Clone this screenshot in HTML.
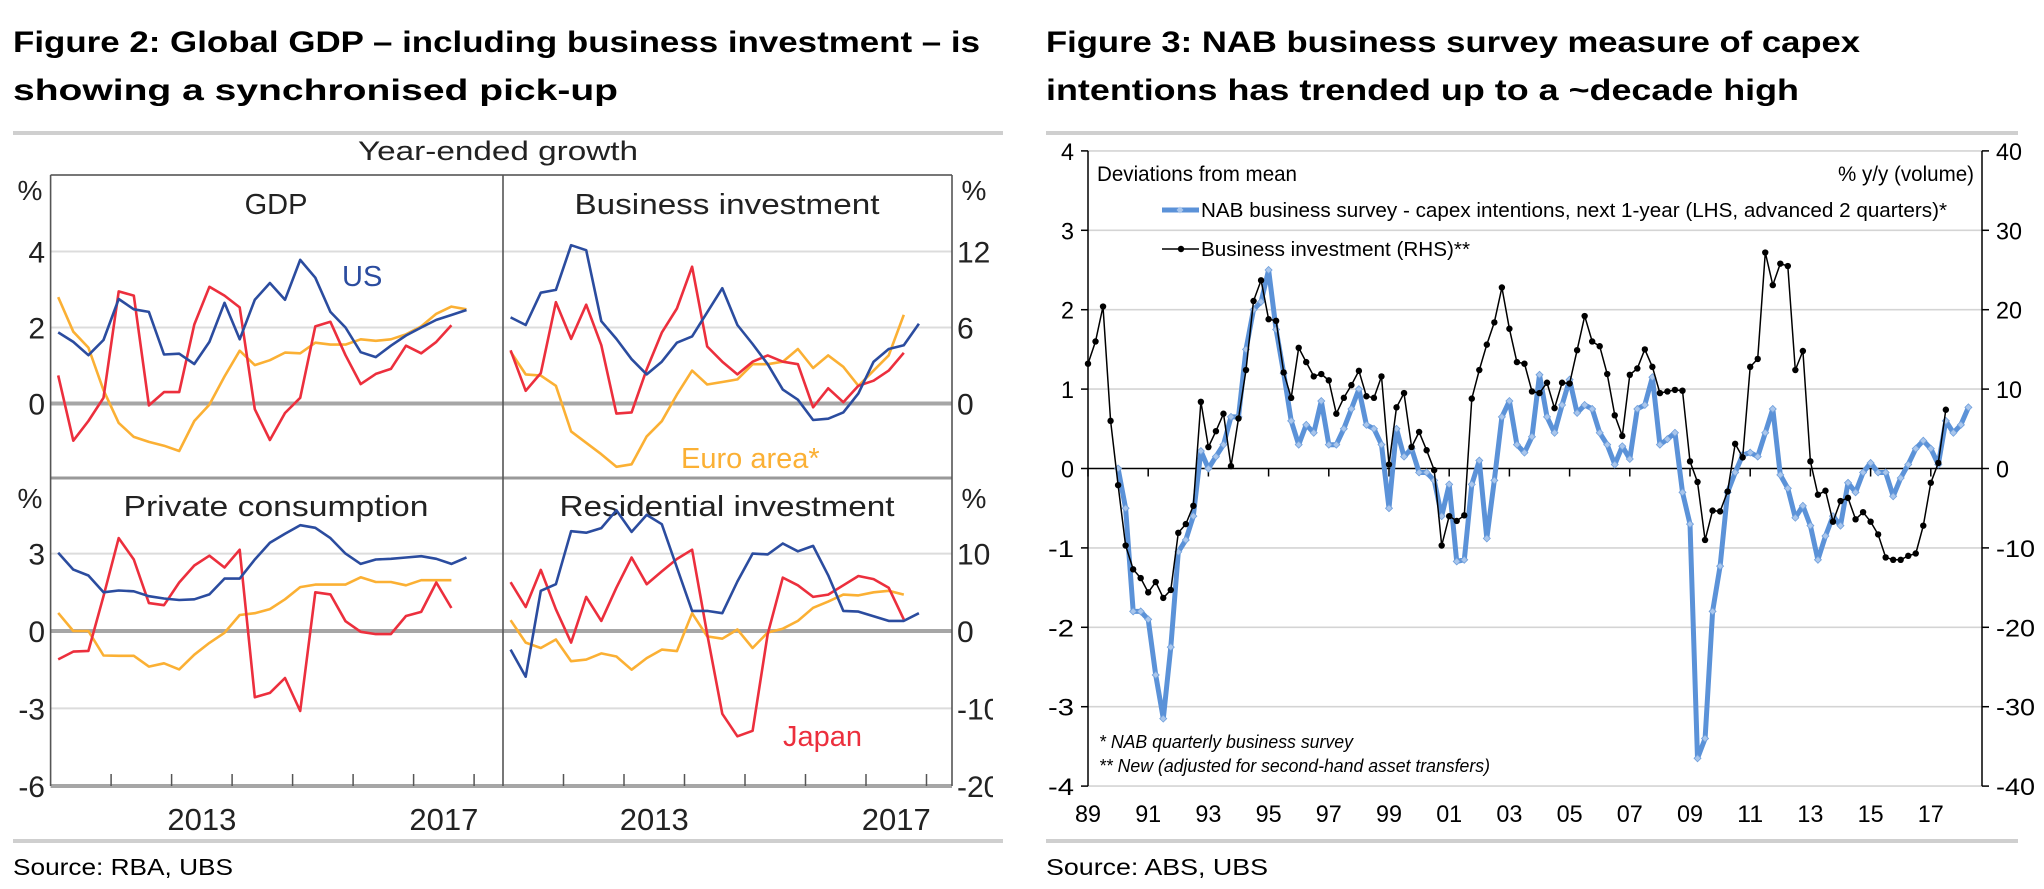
<!DOCTYPE html>
<html><head><meta charset="utf-8"><style>
html,body{margin:0;padding:0;background:#fff;}
svg{display:block;font-family:"Liberation Sans",Arial,sans-serif;}
</style></head><body>
<svg id="s" width="2044" height="889" viewBox="0 0 2044 889" xmlns="http://www.w3.org/2000/svg">
<g font-weight="bold" font-size="30" fill="#000">
<text x="13" y="52" textLength="967" lengthAdjust="spacingAndGlyphs">Figure 2: Global GDP – including business investment – is</text>
<text x="13" y="100" textLength="605" lengthAdjust="spacingAndGlyphs">showing a synchronised pick-up</text>
</g>
<g font-weight="bold" font-size="30" fill="#000">
<text x="1046" y="52" textLength="814" lengthAdjust="spacingAndGlyphs">Figure 3: NAB business survey measure of capex</text>
<text x="1046" y="100" textLength="753" lengthAdjust="spacingAndGlyphs">intentions has trended up to a ~decade high</text>
</g>
<rect x="13" y="131" width="990" height="4" fill="#cfcfcf"/>
<rect x="1046" y="131" width="972" height="4" fill="#cfcfcf"/>
<rect x="13" y="839" width="990" height="4" fill="#cfcfcf"/>
<rect x="1046" y="839" width="972" height="4" fill="#cfcfcf"/>
<text x="13" y="875" font-size="23" textLength="220" lengthAdjust="spacingAndGlyphs">Source:  RBA, UBS</text>
<text x="1046" y="875" font-size="23" textLength="222" lengthAdjust="spacingAndGlyphs">Source:  ABS, UBS</text>
<g id="left"></g>
<g id="right"></g>
</svg>
<script>
// ---------- Figure 2 data (quarterly from 2011Q1) ----------
const gdpUS=[1.87,1.62,1.27,1.67,2.75,2.48,2.41,1.29,1.31,1.04,1.62,2.65,1.69,2.73,3.17,2.73,3.78,3.31,2.41,2.0,1.35,1.22,1.52,1.79,2.0,2.2,2.33,2.46];
const gdpJP=[0.74,-0.98,-0.46,0.15,2.95,2.84,-0.05,0.3,0.3,2.08,3.07,2.84,2.53,-0.15,-0.96,-0.25,0.15,2.03,2.15,1.27,0.51,0.78,0.91,1.52,1.32,1.62,2.06];
const gdpEA=[2.8,1.89,1.47,0.35,-0.51,-0.88,-1.01,-1.11,-1.25,-0.46,-0.03,0.71,1.39,1.01,1.14,1.34,1.32,1.6,1.55,1.55,1.69,1.65,1.69,1.82,2.03,2.36,2.55,2.48];
const biUS=[6.8,6.2,8.75,8.97,12.5,12.1,6.5,5.1,3.5,2.3,3.3,4.8,5.3,7.2,9.1,6.2,4.7,3.1,1.1,0.3,-1.3,-1.2,-0.7,0.8,3.3,4.3,4.6,6.3];
const biJP=[4.2,1.0,2.4,8.0,5.1,7.8,4.6,-0.8,-0.7,2.7,5.6,7.5,10.8,4.5,3.3,2.3,3.3,3.8,3.3,3.1,-0.3,1.2,0.1,1.4,1.8,2.6,4.0];
const biEA=[4.1,2.3,2.2,1.4,-2.2,-3.1,-4.0,-5.0,-4.8,-2.6,-1.4,0.7,2.6,1.5,1.7,1.9,3.1,3.1,3.3,4.3,2.8,3.8,2.9,1.4,2.6,3.8,7.0];
const pcUS=[3.03,2.38,2.15,1.5,1.57,1.54,1.35,1.26,1.2,1.23,1.42,2.03,2.03,2.77,3.42,3.77,4.1,4.0,3.6,3.0,2.6,2.77,2.8,2.85,2.9,2.8,2.6,2.85];
const pcJP=[-1.1,-0.8,-0.77,1.35,3.6,2.77,1.08,1.0,1.88,2.54,2.92,2.46,3.15,-2.57,-2.4,-1.82,-3.1,1.5,1.42,0.38,-0.03,-0.12,-0.12,0.58,0.74,1.88,0.89];
const pcEA=[0.7,0,0,-0.95,-0.96,-0.96,-1.38,-1.25,-1.49,-0.92,-0.46,-0.07,0.62,0.69,0.85,1.23,1.7,1.8,1.8,1.8,2.08,1.9,1.9,1.77,1.97,1.97,1.97];
const riUS=[-2.4,-5.9,5.2,6.05,12.9,12.7,13.3,15.6,12.8,15.0,13.8,8.2,2.6,2.6,2.3,6.4,10,9.9,11.3,10.3,11,7.2,2.6,2.5,1.9,1.3,1.3,2.3];
const riJP=[6.3,3.1,7.9,2.8,-1.5,4.4,1.3,5.6,9.5,6.05,7.7,9.3,10.5,-0.4,-10.7,-13.6,-12.9,-0.4,6.9,5.9,4.4,4.7,5.9,7.1,6.7,5.6,1.5];
const riEA=[1.4,-1.5,-2.2,-1.1,-3.9,-3.7,-2.9,-3.3,-5.0,-3.5,-2.4,-2.6,2.3,-0.7,-1.0,0.2,-2.2,-0.2,0.3,1.3,3.0,3.8,4.7,4.6,5.0,5.2,4.7];
const topLeftTicks=[4,2,0];
const topRightTicks=[12,6,0];
const botLeftTicks=[3,0,-3,-6];
const botRightTicks=[10,0,-10,-20];
const yearLabels=[2013,2017];
// ---------- Figure 3 data (quarterly) ----------
const biStart=1989;
const busInv=[13.2,16,20.4,6,-2.1,-9.7,-12.7,-13.8,-15.6,-14.3,-16.3,-15.3,-8.1,-7,-4.7,8.4,2.7,4.7,6.9,0.3,6.3,12.4,21.1,23.7,18.8,18.6,12.1,8.9,15.2,13.4,11.6,11.9,11.1,6.9,8.9,10.5,12.3,9.1,8.9,11.6,0.5,7.7,9.5,2.7,4.6,2.3,-0.2,-9.7,-6,-6.6,-5.9,8.8,12.4,15.6,18.4,22.8,17.6,13.4,13.2,9.7,9.5,10.8,7.6,10.8,10.7,14.9,19.2,16,15.4,11.9,6.7,4.1,11.8,12.6,15,12.8,9.5,9.7,9.9,9.8,0.9,-1.7,-9,-5.3,-5.4,-2.9,3.1,1.4,12.8,13.8,27.2,23.1,25.8,25.5,12.4,14.8,0.9,-3.3,-2.8,-6.7,-4.1,-3.7,-6.4,-5.5,-6.7,-8.3,-11.2,-11.5,-11.5,-11,-10.7,-7.2,-1.8,0.7,7.4];
const nabStart=1990;
const nabCapex=[0,-0.5,-1.8,-1.8,-1.9,-2.6,-3.15,-2.25,-1.05,-0.9,-0.6,0.22,0,0.15,0.3,0.65,0.65,1.5,2.0,2.1,2.5,1.75,1.2,0.6,0.3,0.55,0.45,0.85,0.3,0.3,0.5,0.75,1.0,0.55,0.5,0.3,-0.5,0.5,0.15,0.25,-0.05,-0.05,-0.15,-0.6,-0.2,-1.17,-1.15,-0.2,0.1,-0.88,-0.15,0.65,0.85,0.3,0.2,0.4,1.18,0.65,0.45,0.8,1.12,0.7,0.8,0.75,0.45,0.3,0.05,0.28,0.12,0.75,0.8,1.15,0.3,0.37,0.45,-0.3,-0.7,-3.65,-3.4,-1.8,-1.23,-0.3,-0.05,0.17,0.2,0.15,0.45,0.75,-0.08,-0.25,-0.62,-0.47,-0.72,-1.15,-0.85,-0.6,-0.72,-0.18,-0.3,-0.05,0.07,-0.05,-0.05,-0.35,-0.12,0.05,0.25,0.35,0.25,0.05,0.6,0.45,0.55,0.77];
const lhsTicks=[4,3,2,1,0,-1,-2,-3,-4];
const rhsTicks=[40,30,20,10,0,-10,-20,-30,-40];
const xYearLabels=["89","91","93","95","97","99","01","03","05","07","09","11","13","15","17"];

const NS="http://www.w3.org/2000/svg";
function mk(tag,attrs,parent,txt){const e=document.createElementNS(NS,tag);for(const k in attrs)e.setAttribute(k,attrs[k]);if(txt!==undefined)e.textContent=txt;parent.appendChild(e);return e;}

// ---------- Figure 2 ----------
const L=document.getElementById('left');
const X0=50.6, MID=503, XR=952, YT=175, YM=478, YB=786, PXY=60.5;
function qx(n,off){return X0+off+(0.125+n*0.25)*PXY;}
function yTop(v){return 403.5-v*38;}
function yBot(v){return 631-v*25.8;}
const C_US="#2b4c9f", C_JP="#ec2f3d", C_EA="#fbb034";

let t=mk('text',{x:498,y:160,'font-size':27,'text-anchor':'middle',fill:'#222',textLength:280,lengthAdjust:'spacingAndGlyphs'},L,'Year-ended growth');



[[yTop,[4,2],[0]],[yBot,[3,-3],[0]]].forEach(([f,g,z])=>{
  g.forEach(v=>{const l=mk('line',{x1:X0,x2:XR,y1:f(v),y2:f(v),stroke:'#dcdcdc','stroke-width':2},L);
    
    });
  z.forEach(v=>{const l=mk('line',{x1:X0,x2:XR,y1:f(v),y2:f(v),stroke:'#a6a6a6','stroke-width':4},L);
    
    });
});
let fr=mk('line',{x1:X0,x2:XR,y1:YT,y2:YT,stroke:'#777','stroke-width':2},L);


fr=mk('line',{x1:X0,x2:XR,y1:YM,y2:YM,stroke:'#999','stroke-width':3},L);


fr=mk('line',{x1:X0,x2:XR,y1:YB,y2:YB,stroke:'#a6a6a6','stroke-width':4},L);


[X0,MID,XR].forEach(x=>{const l=mk('line',{x1:x,x2:x,y1:YT,y2:YB,stroke:'#555','stroke-width':1.6},L);
  
  });
for(let y=1;y<=7;y++){[0,452.4].forEach(off=>{const x=X0+off+y*PXY;const l=mk('line',{x1:x,x2:x,y1:YB,y2:YB-12,stroke:'#555','stroke-width':1.5},L);
  
  });}
yearLabels.forEach(yr=>{[0,452.4].forEach(off=>{const x=X0+off+(yr-2011+0.5)*PXY;const tx=mk('text',{x:x,y:830,'font-size':31,'text-anchor':'middle',fill:'#222'},L,String(yr));
  
  });});
const clip=mk('clipPath',{id:'lc'},L);mk('rect',{x:0,y:0,width:993,height:889},clip);
const ax=mk('g',{'clip-path':'url(#lc)'},L);
topLeftTicks.forEach(v=>{const tx=mk('text',{x:45,y:yTop(v)+11,'font-size':30,'text-anchor':'end',fill:'#222'},ax,String(v));
  
  });
topRightTicks.forEach(v=>{const tx=mk('text',{x:957,y:yTop(v/3)+11,'font-size':30,fill:'#222'},ax,String(v));
  
  });
botLeftTicks.forEach(v=>{const tx=mk('text',{x:45,y:yBot(v)+11,'font-size':30,'text-anchor':'end',fill:'#222'},ax,String(v));
  
  });
botRightTicks.forEach(v=>{const tx=mk('text',{x:957,y:yBot(v*0.3)+11,'font-size':30,fill:'#222'},ax,String(v));
  
  });
[[30,200],[974,200],[30,508],[974,508]].forEach(([x,y])=>{const tx=mk('text',{x:x,y:y,'font-size':28,'text-anchor':'middle',fill:'#222'},ax,'%');
  
  });
[['GDP',276,214,0],['Business investment',727,214,305],['Private consumption',276,516,305],['Residential investment',727,516,335]].forEach(([s,x,y,w])=>{
  const a={x:x,y:y,'font-size':29,'text-anchor':'middle',fill:'#222'};if(w){a.textLength=w;a.lengthAdjust='spacingAndGlyphs';}
  const tx=mk('text',a,L,s);
  
  });
function series(arr,off,yf,col,name){
  const d=arr.map((v,i)=>(i?'L':'M')+qx(i,off).toFixed(1)+','+yf(v).toFixed(1)).join(' ');
  const p=mk('path',{d:d,fill:'none',stroke:col,'stroke-width':2.6,'stroke-linejoin':'round'},L);
  
  
}
series(gdpEA,0,yTop,C_EA,'gdp-euro-area-line');
series(gdpJP,0,yTop,C_JP,'gdp-japan-line');
series(gdpUS,0,yTop,C_US,'gdp-us-line');
series(biEA,452.4,v=>yTop(v/3),C_EA,'business-investment-euro-area-line');
series(biJP,452.4,v=>yTop(v/3),C_JP,'business-investment-japan-line');
series(biUS,452.4,v=>yTop(v/3),C_US,'business-investment-us-line');
series(pcEA,0,yBot,C_EA,'consumption-euro-area-line');
series(pcJP,0,yBot,C_JP,'consumption-japan-line');
series(pcUS,0,yBot,C_US,'consumption-us-line');
series(riEA,452.4,v=>yBot(v*0.3),C_EA,'residential-euro-area-line');
series(riJP,452.4,v=>yBot(v*0.3),C_JP,'residential-japan-line');
series(riUS,452.4,v=>yBot(v*0.3),C_US,'residential-us-line');
[['US',342,286,C_US,'us-series-label'],['Euro area*',681,468,C_EA,'euro-area-series-label'],['Japan',783,746,C_JP,'japan-series-label']].forEach(([s,x,y,c,n])=>{
  const tx=mk('text',{x:x,y:y,'font-size':29,fill:c},L,s);
  
  });

// ---------- Figure 3 ----------
const R=document.getElementById('right');
const RX0=1088, RX1=1982, PY=30.1;
function rx(year){return RX0+(year-1989)*PY;}
function ry(v){return 468.5-v*79.4;}
lhsTicks.forEach(v=>{if(v!==0){const l=mk('line',{x1:RX0,x2:RX1,y1:ry(v),y2:ry(v),stroke:'#d4d4d4','stroke-width':1.6},R);
  
  }});
let a=mk('line',{x1:RX0,x2:RX0,y1:ry(4),y2:ry(-4),stroke:'#000','stroke-width':1.5},R);


a=mk('line',{x1:RX1,x2:RX1,y1:ry(4),y2:ry(-4),stroke:'#000','stroke-width':1.5},R);


a=mk('line',{x1:RX0,x2:RX1,y1:ry(0),y2:ry(0),stroke:'#000','stroke-width':1.6},R);


lhsTicks.forEach(v=>{
  let l=mk('line',{x1:RX0-7,x2:RX0,y1:ry(v),y2:ry(v),stroke:'#000','stroke-width':1.5},R);
  
  
  l=mk('line',{x1:RX1,x2:RX1+7,y1:ry(v),y2:ry(v),stroke:'#000','stroke-width':1.5},R);
  
  
  const tx=mk('text',{x:RX0-14,y:ry(v)+9,'font-size':24,'text-anchor':'end',fill:'#000',textLength:String(v).length*13,lengthAdjust:'spacingAndGlyphs'},R,String(v));
  
  
});
rhsTicks.forEach(v=>{const s=String(v);const tx=mk('text',{x:RX1+14,y:ry(v/10)+9,'font-size':24,fill:'#000',textLength:s.length*13,lengthAdjust:'spacingAndGlyphs'},R,s);
  
  });
xYearLabels.forEach((s,i)=>{const x=rx(1989+2*i);
  const l=mk('line',{x1:x,x2:x,y1:ry(0),y2:ry(0)+8,stroke:'#000','stroke-width':1.5},R);
  
  
  const tx=mk('text',{x:x,y:822,'font-size':24,'text-anchor':'middle',fill:'#000',textLength:26,lengthAdjust:'spacingAndGlyphs'},R,s);
  
  });
const nabPts=nabCapex.map((v,i)=>[rx(nabStart+i/4),ry(v)]);
let p=mk('path',{d:nabPts.map((q,i)=>(i?'L':'M')+q[0].toFixed(1)+','+q[1].toFixed(1)).join(' '),fill:'none',stroke:'#5b92d8','stroke-width':5,'stroke-linejoin':'round'},R);


nabPts.forEach(q=>{const m=mk('path',{d:`M${q[0]},${q[1]-3.5}l3.5,3.5l-3.5,3.5l-3.5,-3.5z`,fill:'#a9c6ec',stroke:'#6f9fdc','stroke-width':0.8},R);
  
  });
const biPts=busInv.map((v,i)=>[rx(biStart+i/4),ry(v/10)]);
p=mk('path',{d:biPts.map((q,i)=>(i?'L':'M')+q[0].toFixed(1)+','+q[1].toFixed(1)).join(' '),fill:'none',stroke:'#000','stroke-width':1.5},R);


biPts.forEach(q=>{const c=mk('circle',{cx:q[0],cy:q[1],r:3.2,fill:'#000'},R);
  
  });
[['Deviations from mean',1097,181,'start',200,21,'normal','deviations-label'],
 ['% y/y (volume)',1974,181,'end',136,21,'normal','rhs-unit-label'],
 ['* NAB quarterly business survey',1099,748,'start',254,18,'italic','footnote-1'],
 ['** New (adjusted for second-hand asset transfers)',1099,772,'start',391,18,'italic','footnote-2']].forEach(([s,x,y,an,w,fs,st,n])=>{
  const tx=mk('text',{x:x,y:y,'font-size':fs,'font-style':st,'text-anchor':an,fill:'#000',textLength:w,lengthAdjust:'spacingAndGlyphs'},R,s);
  
  });
let lg=mk('g',{},R);


mk('line',{x1:1162,x2:1199,y1:210,y2:210,stroke:'#5b92d8','stroke-width':5},lg);
mk('path',{d:'M1180,206.5l3.5,3.5l-3.5,3.5l-3.5,-3.5z',fill:'#a9c6ec'},lg);
mk('text',{x:1201,y:217,'font-size':20,fill:'#000',textLength:746,lengthAdjust:'spacingAndGlyphs'},lg,'NAB business survey - capex intentions, next 1-year (LHS, advanced 2 quarters)*');
lg=mk('g',{},R);


mk('line',{x1:1162,x2:1199,y1:249,y2:249,stroke:'#000','stroke-width':1.5},lg);
mk('circle',{cx:1181,cy:249,r:3.2,fill:'#000'},lg);
mk('text',{x:1201,y:256,'font-size':20,fill:'#000',textLength:269,lengthAdjust:'spacingAndGlyphs'},lg,'Business investment (RHS)**');
</script>
</body></html>
